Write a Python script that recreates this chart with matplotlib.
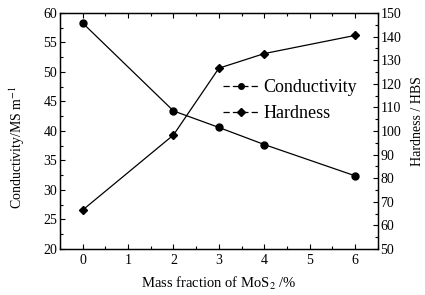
import matplotlib
matplotlib.use("Agg")
import matplotlib.pyplot as plt
from matplotlib.lines import Line2D
from matplotlib.ticker import MultipleLocator

plt.rcParams['font.family'] = ['Liberation Serif', 'DejaVu Serif']
plt.rcParams['mathtext.fontset'] = 'stix'

mos2 = [0, 2, 3, 4, 6]
conductivity = [58.3, 43.4, 40.6, 37.7, 32.4]
hardness = [66.5, 98.3, 126.6, 132.8, 140.5]

fig = plt.figure(figsize=(4.25, 2.95), dpi=100)
ax = fig.add_axes([0.141, 0.156, 0.748, 0.8])
ax2 = ax.twinx()

ax.plot(mos2, conductivity, '-', color='black', lw=0.9, marker='o', ms=5)
ax2.plot(mos2, hardness, '-', color='black', lw=0.9, marker='D', ms=4.5)

ax.set_xlim(-0.5, 6.5)
ax.set_ylim(20, 60)
ax2.set_ylim(50, 150)
ax.xaxis.set_major_locator(MultipleLocator(1))
ax.xaxis.set_minor_locator(MultipleLocator(0.5))
ax.yaxis.set_major_locator(MultipleLocator(5))
ax.yaxis.set_minor_locator(MultipleLocator(2.5))
ax2.yaxis.set_major_locator(MultipleLocator(10))
ax2.yaxis.set_minor_locator(MultipleLocator(5))

for a in (ax, ax2):
    a.tick_params(which='both', direction='in', labelsize=10, width=0.8, top=True)
    a.tick_params(which='major', length=3.5)
    a.tick_params(which='minor', length=2)
    for s in a.spines.values():
        s.set_linewidth(0.9)
ax.tick_params(axis='y', which='both', right=False)
ax.tick_params(axis='y', pad=2)
ax2.tick_params(axis='y', pad=2)

ax.set_xlabel('Mass fraction of MoS$_2$ /%', fontsize=10.5, labelpad=6)
ax.set_ylabel('Conductivity/MS m$^{-1}$', fontsize=10)
ax2.set_ylabel('Hardness / HBS', fontsize=10)
ax.yaxis.set_label_coords(-0.105, 0.43)
ax2.yaxis.set_label_coords(1.103, 0.54)

handles = [
    Line2D([], [], color='black', lw=0.9, ls=(0, (5, 2.5)), marker='o', ms=4),
    Line2D([], [], color='black', lw=0.9, ls=(0, (5, 2.5)), marker='D', ms=4),
]
ax.legend(handles, ['Conductivity', 'Hardness'], loc='upper left',
          bbox_to_anchor=(0.49, 0.75), frameon=False, fontsize=13,
          handlelength=2.0, handletextpad=0.25, labelspacing=0.5,
          borderaxespad=0)

fig.savefig('out.png', dpi=100)
